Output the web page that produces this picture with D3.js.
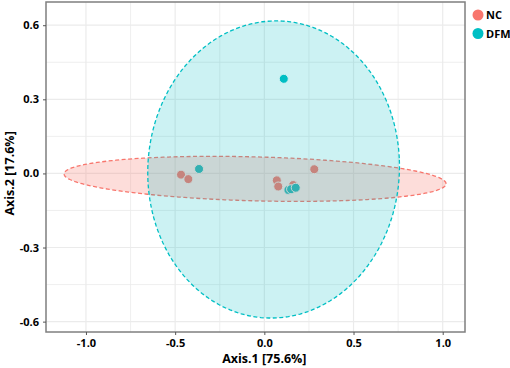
<!DOCTYPE html>
<html>
<head>
<meta charset="utf-8">
<script src="https://cdn.jsdelivr.net/npm/d3@7"></script>
<style>
  body { margin: 0; background: #fff; }
  text { font-family: "Open Sans", "Noto Sans", sans-serif; font-weight: bold; }
</style>
</head>
<body>
<div id="chart"></div>
<script>
// groups and colours
var groups = ["NC", "DFM"];
var colors = ["#F8766D", "#00BFC4"];

// sample coordinates
var ncX = [-0.467, -0.426, 0.070, 0.078, 0.162, 0.280];
var ncY = [-0.005, -0.023, -0.028, -0.053, -0.047, 0.017];
var dfmX = [-0.366, 0.109, 0.135, 0.150, 0.176];
var dfmY = [0.018, 0.383, -0.067, -0.064, -0.058];

// confidence ellipses: centre, semi axes, rotation (deg), in data units
var ellCx = [-0.052, 0.052];
var ellCy = [-0.022, 0.016];
var ellRx = [1.071, 0.706];
var ellRy = [0.089, 0.601];
var ellRot = [-1.07, 3.7];

var xTicks = [-1.0, -0.5, 0.0, 0.5, 1.0];
var yTicks = [-0.6, -0.3, 0.0, 0.3, 0.6];
var xMinor = [-0.75, -0.25, 0.25, 0.75];
var yMinor = [-0.45, -0.15, 0.15, 0.45];

var margin = {top: 2, right: 45, bottom: 36, left: 46},
    width = 510 - margin.left - margin.right,
    height = 368 - margin.top - margin.bottom;

var x = d3.scaleLinear().domain([-1.224, 1.125]).range([0, width]);
var y = d3.scaleLinear().domain([-0.642, 0.694]).range([height, 0]);

var svg = d3.select("#chart")
    .append("svg")
        .attr("width", 510)
        .attr("height", 368)
    .append("g")
        .attr("transform", "translate(" + margin.left + "," + margin.top + ")");

// grid
svg.selectAll(".gx").data(xTicks.concat(xMinor)).join("line")
    .attr("x1", d => x(d)).attr("x2", d => x(d))
    .attr("y1", 0).attr("y2", height)
    .attr("stroke", "#ebebeb").attr("stroke-width", d => xTicks.includes(d) ? 1.2 : 0.8);
svg.selectAll(".gy").data(yTicks.concat(yMinor)).join("line")
    .attr("y1", d => y(d)).attr("y2", d => y(d))
    .attr("x1", 0).attr("x2", width)
    .attr("stroke", "#ebebeb").attr("stroke-width", d => yTicks.includes(d) ? 1.2 : 0.8);

// points
var pts = [];
ncX.forEach((v, i) => pts.push({g: 0, x: v, y: ncY[i]}));
dfmX.forEach((v, i) => pts.push({g: 1, x: v, y: dfmY[i]}));

svg.selectAll(".pt").data(pts).join("circle")
    .attr("cx", d => x(d.x))
    .attr("cy", d => y(d.y))
    .attr("r", 4.5)
    .attr("fill", d => colors[d.g])
    .attr("stroke", "#fff")
    .attr("stroke-width", 1);

// ellipses, drawn over the points like stat_ellipse
function ellipse(i) {
    var th = ellRot[i] * Math.PI / 180;
    return d3.range(0, 201).map(function(k) {
        var t = k / 200 * 2 * Math.PI;
        var ex = ellRx[i] * Math.cos(t), ey = ellRy[i] * Math.sin(t);
        return [x(ellCx[i] + ex * Math.cos(th) - ey * Math.sin(th)),
                y(ellCy[i] + ex * Math.sin(th) + ey * Math.cos(th))];
    });
}
groups.forEach(function(g, i) {
    svg.append("path")
        .attr("d", d3.line()(ellipse(i)) + "Z")
        .attr("fill", colors[i])
        .attr("fill-opacity", i == 0 ? 0.25 : 0.2)
        .attr("stroke", colors[i])
        .attr("stroke-width", 1.3)
        .attr("stroke-dasharray", "4,2.5");
});

// panel border
svg.append("rect")
    .attr("width", width).attr("height", height)
    .attr("fill", "none").attr("stroke", "#7f7f7f").attr("stroke-width", 1.5);

// axes
var xAxis = svg.append("g")
    .attr("transform", "translate(0," + height + ")")
    .call(d3.axisBottom(x).tickValues(xTicks).tickFormat(d3.format(".1f")).tickSize(3).tickPadding(4));
var yAxis = svg.append("g")
    .call(d3.axisLeft(y).tickValues(yTicks).tickFormat(d3.format(".1f")).tickSize(3).tickPadding(4));
[xAxis, yAxis].forEach(function(a) {
    a.select(".domain").remove();
    a.selectAll("line").attr("stroke", "#555");
    a.selectAll("text").style("font-size", "11px").attr("fill", "#000")
        .text(function(d) { return d3.format(".1f")(d).replace("\u2212", "-"); });
});

// axis titles
svg.append("text")
    .attr("text-anchor", "middle")
    .style("font-size", "12.5px")
    .attr("x", x(0))
    .attr("y", height + 31)
    .text("Axis.1 [75.6%]");
svg.append("text")
    .attr("text-anchor", "middle")
    .style("font-size", "12.5px")
    .attr("transform", "rotate(-90)")
    .attr("x", -y(0))
    .attr("y", -32)
    .text("Axis.2 [17.6%]");

// legend
groups.forEach(function(g, i) {
    svg.append("circle")
        .attr("cx", width + 13).attr("cy", 13 + i * 18.5)
        .attr("r", 5.5).attr("fill", colors[i]);
    svg.append("text")
        .style("font-size", "11px")
        .attr("x", width + 21).attr("y", 17 + i * 18.5)
        .text(g);
});
</script>
</body>
</html>
